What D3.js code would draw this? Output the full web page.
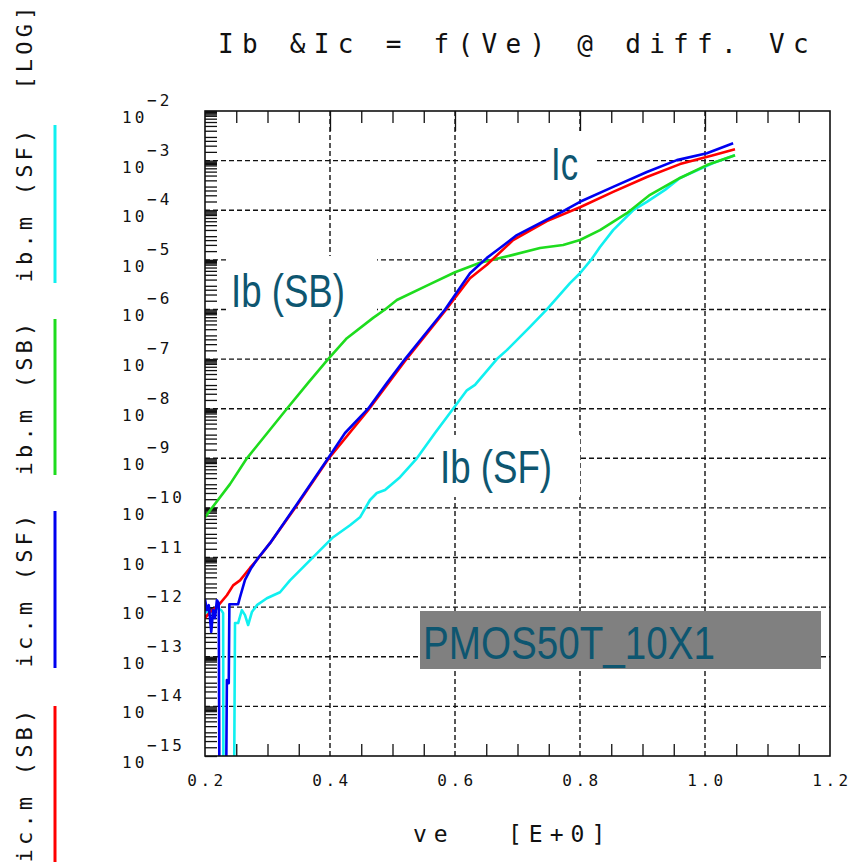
<!DOCTYPE html>
<html>
<head>
<meta charset="utf-8">
<script src="https://cdn.jsdelivr.net/npm/d3@7"></script>
<style>
body { margin: 0; background: #fff; }
svg text { font-family: "DejaVu Sans Mono", "Liberation Mono", monospace; fill: #111; }
</style>
</head>
<body>
<svg id="chart" width="852" height="863"></svg>
<script>
// values: ve in volts, current as log10(A)
var ibSF_ve  = [0.200,0.213,0.219,0.226,0.229,0.2296,0.2464,0.248,0.253,0.259,0.264,0.269,0.275,0.283,0.299,0.320,0.336,0.373,0.405,0.432,0.448,0.464,0.475,0.488,0.512,0.539,0.568,0.597,0.619,0.632,0.667,0.683,0.720,0.747,0.784,0.800,0.819,0.832,0.853,0.885,0.907,0.936,0.960,1.013,1.048];
var ibSF_log = [-12.10,-12.10,-12.02,-12.06,-12.12,-16,-16,-12.32,-12.32,-12.06,-12.16,-12.36,-12.10,-11.96,-11.82,-11.70,-11.46,-10.99,-10.59,-10.35,-10.19,-9.84,-9.70,-9.64,-9.38,-9.00,-8.49,-8.00,-7.63,-7.52,-7.00,-6.82,-6.35,-6.00,-5.47,-5.27,-4.98,-4.74,-4.40,-4.00,-3.83,-3.59,-3.35,-3.05,-2.89];

var ibSB_ve  = [0.200,0.211,0.240,0.267,0.301,0.331,0.365,0.397,0.427,0.469,0.488,0.507,0.560,0.600,0.640,0.693,0.736,0.773,0.800,0.832,0.875,0.912,0.960,1.003,1.048];
var ibSB_log = [-10.19,-10.00,-9.52,-9.00,-8.47,-8.00,-7.48,-7.00,-6.58,-6.17,-6.00,-5.81,-5.49,-5.25,-5.06,-4.90,-4.76,-4.70,-4.60,-4.40,-4.06,-3.69,-3.35,-3.09,-2.89];

var icSF_ve  = [0.200,0.203,0.206,0.210,0.213,0.216,0.219,0.222,0.2232,0.2336,0.235,0.238,0.239,0.253,0.256,0.264,0.274,0.285,0.304,0.344,0.397,0.424,0.461,0.490,0.520,0.552,0.584,0.600,0.624,0.651,0.672,0.699,0.736,0.776,0.800,0.853,0.907,0.955,1.003,1.045];
var icSF_log = [-11.84,-12.06,-11.96,-12.50,-12.06,-12.22,-11.86,-11.92,-16,-16,-13.47,-13.53,-11.94,-11.94,-11.80,-11.45,-11.21,-11.01,-10.71,-9.98,-9.00,-8.49,-8.00,-7.50,-7.00,-6.50,-6.00,-5.71,-5.27,-4.96,-4.76,-4.50,-4.26,-4.00,-3.83,-3.53,-3.23,-2.99,-2.85,-2.65];

var icSB_ve  = [0.200,0.208,0.219,0.235,0.245,0.256,0.272,0.283,0.304,0.344,0.397,0.461,0.520,0.584,0.624,0.651,0.693,0.747,0.800,0.853,0.907,0.960,1.013,1.048];
var icSB_log = [-12.22,-12.10,-12.00,-11.76,-11.56,-11.46,-11.21,-11.05,-10.71,-10.00,-9.02,-8.03,-7.04,-6.03,-5.37,-5.10,-4.60,-4.22,-3.94,-3.63,-3.33,-3.07,-2.89,-2.77];

var seriesNames  = ["ib.m (SF)", "ib.m (SB)", "ic.m (SF)", "ic.m (SB)"];
var seriesColors = ["#10f0f0", "#1edc1e", "#0000f0", "#ff0000"];

var xTickLabels = ["0.2", "0.4", "0.6", "0.8", "1.0", "1.2"];
var decades = [-2,-3,-4,-5,-6,-7,-8,-9,-10,-11,-12,-13,-14,-15];

var L = 205, R = 830, T = 111, B = 756;

var svg = d3.select("#chart");
svg.append("rect").attr("width", 852).attr("height", 863).attr("fill", "#fff");

var x = d3.scaleLinear().domain([0.2, 1.2]).range([L, R]);
var y = d3.scaleLog().domain([1e-2, 1e-15]).range([T, B]);

function toPoints(ve, lg) {
	return ve.map(function(v, i) { return { v: v, i: Math.pow(10, lg[i]) }; });
}

// minor tick values
var yMinor = [];
var mults = [1,1.5,2,2.5,3,4,5,6,7,8,8.5,9,9.5];
for (var e = -15; e <= -3; e++) {
	mults.forEach(function(m) { yMinor.push(m * Math.pow(10, e)); });
}
yMinor.push(1e-2);

var xMinor = [], xMajor = [0.4, 0.6, 0.8, 1.0];
for (var k = 5; k <= 23; k++) {
	var v = k * 0.05;
	if (xMajor.every(function(m) { return Math.abs(m - v) > 1e-6; })) xMinor.push(v);
}

// grid
var grid = svg.append("g").attr("stroke", "#111").attr("stroke-width", 1.4).attr("stroke-dasharray", "5,3");
decades.slice(1, -1).forEach(function(d) {
	grid.append("line").attr("x1", L).attr("x2", R)
		.attr("y1", y(Math.pow(10, d))).attr("y2", y(Math.pow(10, d)));
});
xMajor.forEach(function(v) {
	grid.append("line").attr("x1", x(v)).attr("x2", x(v)).attr("y1", T).attr("y2", B);
});

// axes ticks (inward)
function styleAxis(g) {
	g.select(".domain").remove();
	g.selectAll(".tick line").attr("stroke", "#111").attr("stroke-width", 1.3);
}
svg.append("g").attr("transform", "translate(" + L + ",0)")
	.call(d3.axisLeft(y).tickValues(yMinor).tickSize(-12).tickFormat("")).call(styleAxis);
svg.append("g").attr("transform", "translate(0," + T + ")")
	.call(d3.axisTop(x).tickValues(xMinor).tickSize(-12).tickFormat("")).call(styleAxis);
svg.append("g").attr("transform", "translate(0," + T + ")")
	.call(d3.axisTop(x).tickValues(xMajor).tickSize(-20).tickFormat("")).call(styleAxis);
svg.append("g").attr("transform", "translate(0," + B + ")")
	.call(d3.axisBottom(x).tickValues(xMinor).tickSize(-12).tickFormat("")).call(styleAxis);

// label boxes
svg.append("rect").attr("x", 228).attr("y", 256).attr("width", 149).attr("height", 62).attr("fill", "#fff");
svg.append("rect").attr("x", 547).attr("y", 131).attr("width", 50).attr("height", 59).attr("fill", "#fff");
svg.append("rect").attr("x", 436).attr("y", 435).attr("width", 144).attr("height", 62).attr("fill", "#fff");
svg.append("rect").attr("x", 420).attr("y", 611).attr("width", 401).attr("height", 58).attr("fill", "#808080");

// curves
svg.append("clipPath").attr("id", "plotclip").append("rect")
	.attr("x", L).attr("y", T).attr("width", R - L).attr("height", B - T);

var line = d3.line().x(function(d) { return x(d.v); }).y(function(d) { return y(d.i); });
var curves = [
	{ pts: toPoints(ibSF_ve, ibSF_log), color: seriesColors[0] },
	{ pts: toPoints(ibSB_ve, ibSB_log), color: seriesColors[1] },
	{ pts: toPoints(icSB_ve, icSB_log), color: seriesColors[3] },
	{ pts: toPoints(icSF_ve, icSF_log), color: seriesColors[2] }
];
svg.append("g").attr("clip-path", "url(#plotclip)").selectAll("path")
	.data(curves).join("path")
	.attr("d", function(d) { return line(d.pts); })
	.attr("fill", "none")
	.attr("stroke", function(d) { return d.color; })
	.attr("stroke-width", 2.6)
	.attr("stroke-linejoin", "round");

// frame
svg.append("rect").attr("x", L).attr("y", T).attr("width", R - L).attr("height", B - T)
	.attr("fill", "none").attr("stroke", "#111").attr("stroke-width", 1.6);

// y labels: 10 with exponent
var ylab = svg.append("g").style("font-size", "16px").style("letter-spacing", "3px");
decades.forEach(function(d) {
	var yy = y(Math.pow(10, d));
	ylab.append("text").attr("x", 122).attr("y", yy + 12).text("10");
	ylab.append("text").attr("x", 147).attr("y", yy - 5).text("\u2212" + (-d));
});

// x labels
svg.append("g").style("font-size", "16px").style("letter-spacing", "3.5px")
	.selectAll("text").data(xTickLabels).join("text")
	.attr("x", function(d) { return x(+d) + 2; })
	.attr("y", 786)
	.attr("text-anchor", "middle")
	.text(function(d) { return d; });

// titles
svg.append("text").attr("x", 218).attr("y", 53)
	.style("font-size", "26px").style("letter-spacing", "8.3px")
	.text("Ib &Ic = f(Ve) @ diff. Vc");
svg.append("text").attr("x", 413).attr("y", 842)
	.style("font-size", "23px").style("letter-spacing", "7px").text("ve");
svg.append("text").attr("x", 508).attr("y", 842)
	.style("font-size", "23px").style("letter-spacing", "7px").text("[E+0]");

// left legend, rotated
var legendMid = [204, 397, 589, 784];
var legendTop = [125, 319, 511, 706];
var legendBot = [283, 475, 668, 862];
svg.append("text").attr("transform", "translate(32,46) rotate(-90)")
	.attr("text-anchor", "middle").style("font-size", "22px").style("letter-spacing", "4.2px")
	.text("[LOG]");
seriesNames.forEach(function(name, i) {
	svg.append("text").attr("transform", "translate(32," + legendMid[i] + ") rotate(-90)")
		.attr("text-anchor", "middle").style("font-size", "22px").style("letter-spacing", "4.2px")
		.text(name);
	svg.append("line").attr("x1", 55).attr("x2", 55)
		.attr("y1", legendTop[i]).attr("y2", legendBot[i])
		.attr("stroke", seriesColors[i]).attr("stroke-width", 3);
});

// annotations
function note(txt, xx, yy, w) {
	svg.append("text").attr("x", xx).attr("y", yy)
		.attr("textLength", w).attr("lengthAdjust", "spacingAndGlyphs")
		.style("font-family", "'Liberation Sans', Arial, sans-serif")
		.style("font-size", "46px").style("fill", "#0e5670")
		.text(txt);
}
note("Ib (SB)", 231, 307, 114);
note("Ic", 551, 180, 27);
note("Ib (SF)", 440, 483, 112);
note("PMOS50T_10X1", 423, 659, 292);
</script>
</body>
</html>
